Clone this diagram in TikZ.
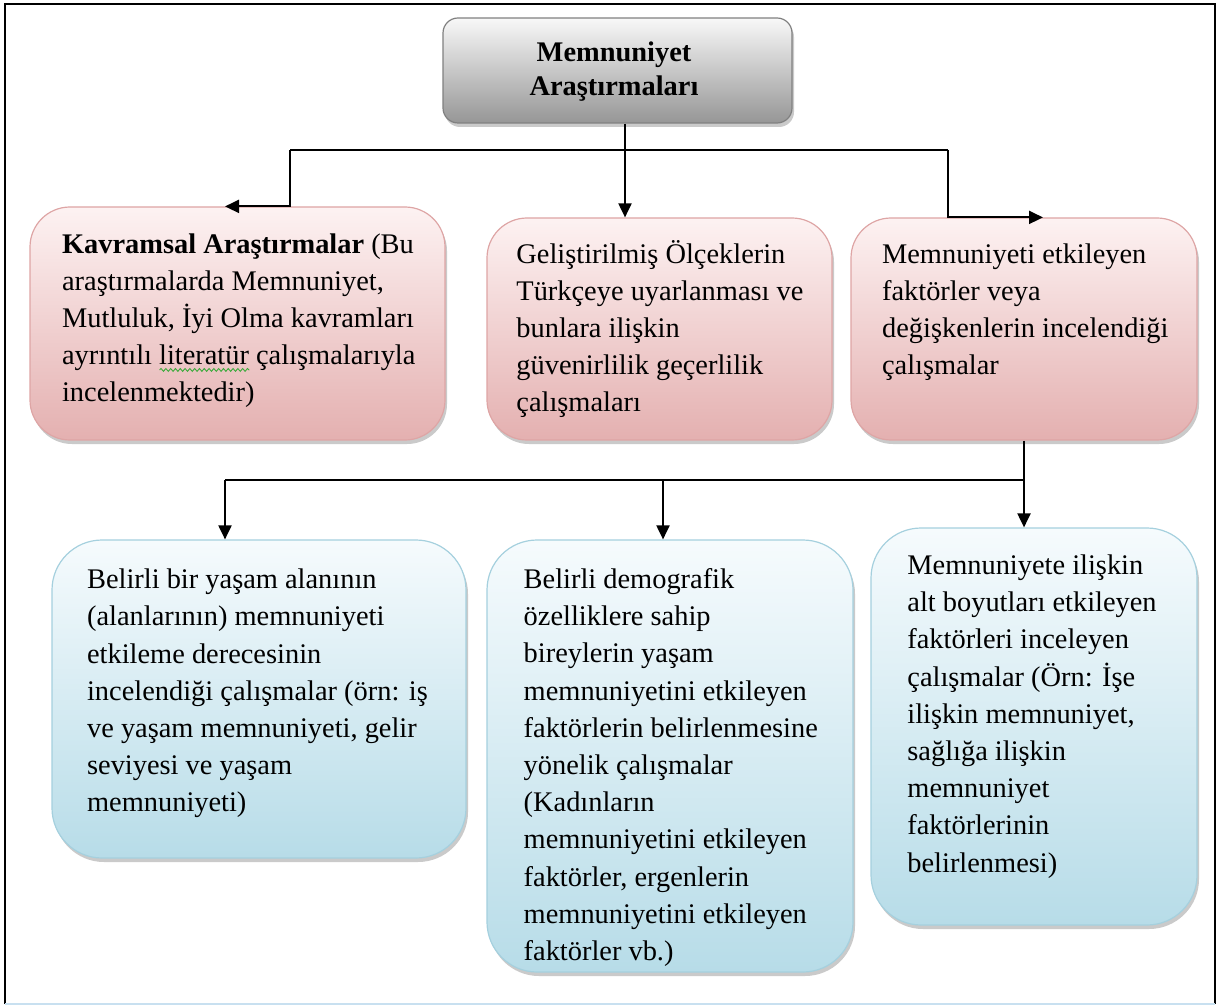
\documentclass[tikz,border=0pt]{standalone}
\usepackage{fontspec}
\setmainfont{Liberation Serif}
\usetikzlibrary{arrows.meta,shadows,decorations.pathmorphing}
\definecolor{wavegreen}{RGB}{60,170,60}
\definecolor{pinktop}{RGB}{253,242,242}
\definecolor{pinkbot}{RGB}{228,176,176}
\definecolor{pinkline}{RGB}{222,165,165}
\definecolor{bluetop}{RGB}{246,251,253}
\definecolor{bluebot}{RGB}{183,220,232}
\definecolor{blueline}{RGB}{165,208,222}
\definecolor{graytop}{RGB}{248,248,248}
\definecolor{graybot}{RGB}{150,150,150}
\definecolor{grayline}{RGB}{128,128,128}
\definecolor{framebot}{RGB}{200,224,240}
\newlength\wvlen
\newcommand\greenwave[1]{\settowidth{\wvlen}{#1}\rlap{\tikz[baseline=0pt]\draw[wavegreen,line width=0.45pt,decorate,decoration={snake,amplitude=0.7pt,segment length=2.4pt}] (0pt,-2.6pt) -- (\wvlen,-2.6pt);}#1}
\newcommand\bodyfont{\fontsize{14.2pt}{18.6pt}\selectfont}
\newcommand\headfont{\fontsize{14.2pt}{16.9pt}\selectfont\bfseries}
\tikzset{
  shade/.style={drop shadow={shadow xshift=1pt,shadow yshift=-2pt,opacity=0.35,fill=black!60}},
  graybox/.style={shade,rounded corners=7.5pt,draw=grayline,line width=0.6pt,top color=graytop,bottom color=graybot,inner sep=0pt},
  pinkbox/.style={shade,rounded corners=20pt,draw=pinkline,line width=0.6pt,top color=pinktop,bottom color=pinkbot,inner sep=0pt},
  bluebox/.style={shade,rounded corners=25pt,draw=blueline,line width=0.6pt,top color=bluetop,bottom color=bluebot,inner sep=0pt},
  txt/.style={anchor=north west,inner sep=0pt,align=left,font=\bodyfont},
  line/.style={draw=black,line width=1pt},
  arr/.style={line,-{Triangle[length=7pt,width=6.5pt]}}
}
\begin{document}
\begin{tikzpicture}[x=0.5pt,y=-0.5pt]
\useasboundingbox (0,0) rectangle (1218,1005);
% frame
\draw[line width=1.4pt,black] (5,1004) -- (5,4) -- (1215,4) -- (1215,1004);
\draw[line width=1.2pt,framebot] (5,1004) -- (1215,1004);
% boxes
\node[graybox,minimum width=174.5pt,minimum height=52.5pt] (top) at (617.5,70.5) {};
\node[pinkbox,minimum width=207.5pt,minimum height=116.5pt] (A) at (237.5,323.5) {};
\node[pinkbox,minimum width=172.5pt,minimum height=111pt] (B) at (659.5,329) {};
\node[pinkbox,minimum width=173pt,minimum height=111pt] (C) at (1024,329) {};
\node[bluebox,minimum width=207pt,minimum height=159pt] (D) at (259,699) {};
\node[bluebox,minimum width=183pt,minimum height=216pt] (E) at (670,756) {};
\node[bluebox,minimum width=163pt,minimum height=198.5pt] (F) at (1034,726.5) {};
% texts
\node[anchor=north,inner sep=0pt,align=center,font=\headfont] (tt) at (614,37.5) {\strut Memnuniyet\\Araştırmaları};
\node[txt] (tA) at (61.7,226.7) {\strut\textbf{Kavramsal Araştırmalar} (Bu\\araştırmalarda Memnuniyet,\\Mutluluk, İyi Olma kavramları\\ayrıntılı \greenwave{literatür} çalışmalarıyla\\incelenmektedir)};
\node[txt] (tB) at (516,236.7) {\strut Geliştirilmiş Ölçeklerin\\Türkçeye uyarlanması ve\\bunlara ilişkin\\güvenirlilik geçerlilik\\çalışmaları};
\node[txt] (tC) at (881.7,236.7) {\strut Memnuniyeti etkileyen\\faktörler veya\\değişkenlerin incelendiği\\çalışmalar};
\node[txt] (tD) at (86.7,562.3) {\strut Belirli bir yaşam alanının\\(alanlarının) memnuniyeti\\etkileme derecesinin\\incelendiği çalışmalar (örn: iş\\ve yaşam memnuniyeti, gelir\\seviyesi ve yaşam\\memnuniyeti)};
\node[txt] (tE) at (523.3,562) {\strut Belirli demografik\\özelliklere sahip\\bireylerin yaşam\\memnuniyetini etkileyen\\faktörlerin belirlenmesine\\yönelik çalışmalar\\(Kadınların\\memnuniyetini etkileyen\\faktörler, ergenlerin\\memnuniyetini etkileyen\\faktörler vb.)};
\node[txt] (tF) at (907,548) {\strut Memnuniyete ilişkin\\alt boyutları etkileyen\\faktörleri inceleyen\\çalışmalar (Örn: İşe\\ilişkin memnuniyet,\\sağlığa ilişkin\\memnuniyet\\faktörlerinin\\belirlenmesi)};
% connectors level 1
\coordinate (h1L) at (290,150);
\coordinate (h1M) at (625,150);
\coordinate (h1R) at (948,150);
\coordinate (tipA) at (225,150);
\coordinate (tipC) at (1043,150);
\draw[line] (h1L) -- (h1R);
\draw[arr] (top.south -| h1M) -- (B.north -| h1M);
\draw[arr] (h1L) |- (A.north -| tipA);
\draw[arr] (h1R) |- (C.north -| tipC);
% connectors level 2
\coordinate (h2L) at (225,480);
\coordinate (h2M) at (663,480);
\coordinate (h2R) at (1024,480);
\draw[line] (C.south) -- (h2R);
\draw[line] (h2L) -- (h2R);
\draw[arr] (h2L) -- (D.north -| h2L);
\draw[arr] (h2M) -- (E.north -| h2M);
\draw[arr] (h2R) -- (F.north -| h2R);
\end{tikzpicture}
\end{document}
